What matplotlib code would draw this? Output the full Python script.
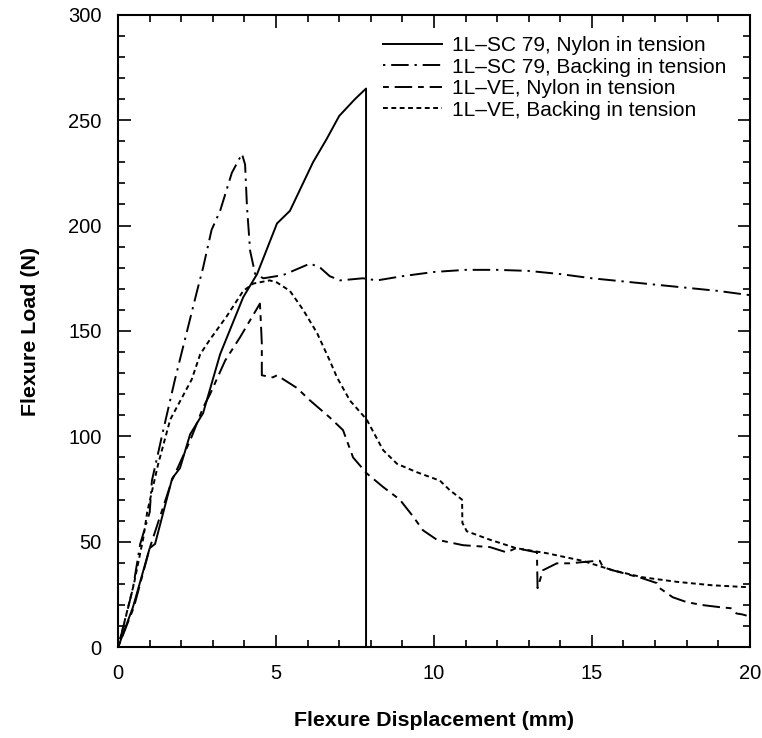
import matplotlib.pyplot as plt
from matplotlib.ticker import MultipleLocator

plt.rcParams['font.family'] = ['Liberation Sans', 'DejaVu Sans']

# 1L-SC 79, Nylon in tension
sc_nylon_x = [0, 0.47, 1.0, 1.17, 1.71, 1.96, 2.28, 2.69, 3.23, 3.96, 4.4, 5.03, 5.44, 6.17, 6.6, 7.0, 7.5, 7.85, 7.85]
sc_nylon_y = [0, 19, 47, 49, 80, 85, 101, 111, 139, 166, 177, 201, 207, 230, 241, 252, 260, 265, 0]

# 1L-SC 79, Backing in tension
sc_back_x = [0, 0.17, 0.47, 0.7, 1.0, 1.07, 1.43, 1.8, 2.5, 2.69, 2.96, 3.23, 3.6, 3.92, 4.02, 4.08, 4.18, 4.34,
             4.6, 5.22, 6.08, 6.4, 6.7, 7.03, 7.75, 8.2, 9, 10, 11, 12, 13, 14, 15, 16, 17, 18, 19, 20]
sc_back_y = [0, 10, 28, 49, 64, 79, 103, 127, 169, 180, 198, 207, 225, 234, 229, 209, 188, 177,
             175, 176.5, 182, 180, 176, 174, 175, 174, 176, 178, 179, 179, 178.5, 177, 175, 173.5, 172, 170.5, 169, 167]

# 1L-VE, Nylon in tension
ve_nylon_x = [0, 0.5, 1.0, 1.7, 2.28, 2.7, 2.91, 3.39, 3.86, 4.49, 4.52, 4.55, 4.55, 4.9, 5.03, 5.66, 6.08, 6.7,
              7.12, 7.44, 7.87, 8.39, 8.92, 9.34, 9.65, 10.09, 10.92, 11.77, 12.3, 12.6, 13.26, 13.28, 13.45,
              13.89, 14.3, 15.16, 15.25, 15.35, 15.66, 16.6, 17.06, 17.15, 17.56, 18.0, 18.5, 19.05, 19.4, 19.58, 19.75, 19.9]
ve_nylon_y = [0, 19, 47, 79, 98, 114, 120, 136, 147, 163, 154, 144, 129, 128, 129, 123, 117, 109,
              103, 90, 82.5, 76, 70, 62, 55.5, 51, 48.4, 47.5, 45, 47, 45, 28, 36.5,
              39.8, 39.8, 41, 41, 38, 36.5, 32.7, 30.4, 28, 23.7, 21.4, 20, 19, 18.5, 16, 15.6, 15]

# 1L-VE, Backing in tension
ve_back_x = [0, 0.2, 0.5, 0.8, 0.92, 1.27, 1.65, 2.33, 2.6, 2.91, 3.44, 3.96, 4.28, 4.8, 5.03, 5.44, 5.86,
             6.3, 6.7, 6.93, 7.34, 7.87, 8.39, 8.83, 9.46, 10.19, 10.5, 10.89, 10.9, 11.04, 11.77, 12.6,
             13.57, 14.7, 15.66, 16.6, 17.7, 18.8, 19.9]
ve_back_y = [0, 12, 30, 52, 64, 87, 108, 127, 139, 146, 157, 169, 172.5, 174, 173, 169, 160,
             149, 136, 128, 117, 108, 93.5, 87, 83, 79, 74.5, 70, 59, 55, 51, 47,
             44.6, 41, 36.5, 33.2, 31, 29.4, 28.5]

labels = ['1L\u2013SC 79, Nylon in tension', '1L\u2013SC 79, Backing in tension',
          '1L\u2013VE, Nylon in tension', '1L\u2013VE, Backing in tension']

fig = plt.figure(figsize=(7.62, 7.38), dpi=100)
ax = fig.add_axes([0.155, 0.123, 0.829, 0.857])

lw = 1.4
ax.plot(sc_nylon_x, sc_nylon_y, color='k', lw=lw, linestyle='-', label=labels[0])
ax.plot(sc_back_x, sc_back_y, color='k', lw=lw, linestyle=(0, (1.2, 3, 9, 3)), label=labels[1])
ax.plot(ve_nylon_x, ve_nylon_y, color='k', lw=lw, linestyle=(0, (3, 3, 9, 3)), label=labels[2])
ax.plot(ve_back_x, ve_back_y, color='k', lw=lw, linestyle=(0, (2.5, 1.8)), label=labels[3])

ax.set_xlim(0, 20)
ax.set_ylim(0, 300)
ax.xaxis.set_major_locator(MultipleLocator(5))
ax.xaxis.set_minor_locator(MultipleLocator(1))
ax.yaxis.set_major_locator(MultipleLocator(50))
ax.yaxis.set_minor_locator(MultipleLocator(10))
ax.tick_params(which='both', direction='in', top=True, right=True, width=1.2, labelsize=14.5, colors='k')
ax.tick_params(which='major', length=9, pad=12)
ax.tick_params(which='minor', length=5)
for s in ax.spines.values():
    s.set_linewidth(1.5)

ax.set_xlabel('Flexure Displacement (mm)', fontsize=15.4, fontweight='bold', labelpad=20)
ax.set_ylabel('Flexure Load (N)', fontsize=15.4, fontweight='bold', labelpad=20)

ax.legend(loc='upper left', bbox_to_anchor=(0.419, 0.966), frameon=False, fontsize=15,
          handlelength=2.83, handletextpad=0.48, labelspacing=0.12, borderpad=0, borderaxespad=0)

plt.savefig('out.png', dpi=100)
plt.close()
